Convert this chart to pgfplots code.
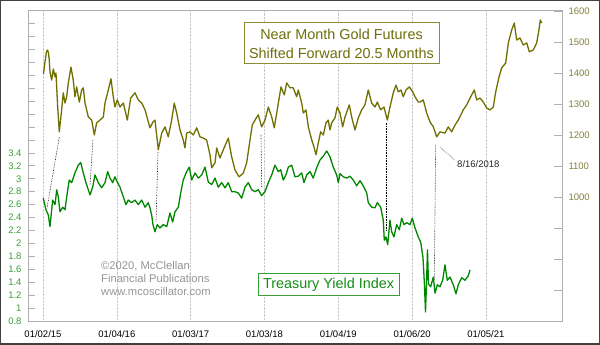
\documentclass[border=0pt]{standalone}
\usepackage{fontspec}
\setmainfont{Liberation Sans}
\usepackage{pgfplots}
\usepackage{pgfplotstable}
\pgfplotsset{compat=1.18}
\definecolor{goldline}{RGB}{112,112,0}
\definecolor{goldtext}{RGB}{110,110,10}
\definecolor{goldlab}{RGB}{130,130,60}
\definecolor{tsyline}{RGB}{0,135,0}
\definecolor{tsytext}{RGB}{20,140,20}
\definecolor{tsylab}{RGB}{55,160,55}
\definecolor{framegray}{RGB}{175,175,175}
\definecolor{copygray}{RGB}{150,150,150}

\pgfplotstableread{
year price
2015.007 1397
2015.027 1435
2015.047 1468
2015.061 1474
2015.074 1465
2015.085 1442
2015.095 1403
2015.118 1377
2015.140 1413
2015.163 1387
2015.176 1400
2015.199 1290
2015.221 1210
2015.253 1281
2015.275 1336
2015.298 1303
2015.321 1323
2015.343 1368
2015.379 1419
2015.410 1377
2015.433 1323
2015.456 1355
2015.492 1306
2015.524 1345
2015.546 1352
2015.569 1303
2015.614 1258
2015.660 1248
2015.695 1200
2015.727 1239
2015.772 1248
2015.817 1258
2015.840 1303
2015.885 1345
2015.921 1381
2015.952 1323
2015.975 1290
2016.006 1313
2016.043 1290
2016.088 1303
2016.142 1248
2016.188 1319
2016.246 1336
2016.291 1313
2016.337 1303
2016.382 1281
2016.449 1223
2016.490 1242
2016.517 1248
2016.562 1152
2016.608 1206
2016.652 1226
2016.697 1194
2016.743 1248
2016.778 1303
2016.811 1271
2016.856 1216
2016.900 1184
2016.923 1158
2016.946 1206
2016.991 1210
2017.036 1200
2017.082 1223
2017.127 1194
2017.171 1190
2017.217 1184
2017.262 1136
2017.285 1094
2017.330 1110
2017.353 1158
2017.397 1126
2017.442 1152
2017.510 1190
2017.556 1129
2017.601 1087
2017.655 1065
2017.713 1077
2017.759 1110
2017.804 1184
2017.835 1232
2017.872 1248
2017.916 1265
2017.962 1226
2018.007 1248
2018.052 1290
2018.098 1258
2018.133 1223
2018.179 1290
2018.224 1355
2018.268 1329
2018.301 1368
2018.346 1352
2018.390 1352
2018.436 1323
2018.458 1345
2018.504 1303
2018.526 1271
2018.562 1281
2018.594 1226
2018.640 1184
2018.671 1161
2018.698 1136
2018.729 1174
2018.761 1210
2018.797 1200
2018.833 1239
2018.864 1248
2018.887 1216
2018.910 1239
2018.955 1255
2018.986 1290
2019.023 1271
2019.059 1226
2019.091 1258
2019.149 1297
2019.181 1258
2019.226 1216
2019.271 1255
2019.317 1281
2019.361 1297
2019.406 1345
2019.452 1303
2019.497 1290
2019.528 1306
2019.574 1281
2019.619 1290
2019.664 1248
2019.700 1290
2019.745 1336
2019.781 1361
2019.813 1339
2019.849 1345
2019.880 1323
2019.917 1345
2019.962 1355
2020.008 1339
2020.039 1323
2020.083 1306
2020.106 1306
2020.151 1313
2020.197 1271
2020.242 1242
2020.287 1226
2020.333 1194
2020.377 1210
2020.445 1206
2020.490 1226
2020.536 1210
2020.581 1232
2020.625 1248
2020.693 1281
2020.739 1297
2020.784 1319
2020.842 1345
2020.874 1313
2020.919 1319
2020.964 1306
2021.010 1287
2021.055 1281
2021.099 1290
2021.132 1339
2021.177 1387
2021.213 1416
2021.267 1432
2021.303 1497
2021.349 1539
2021.384 1561
2021.416 1506
2021.461 1513
2021.506 1490
2021.552 1497
2021.587 1468
2021.641 1474
2021.687 1497
2021.718 1539
2021.736 1571
2021.755 1561
}\golddata

\pgfplotstableread{
year yield
2015.004 2.70
2015.041 2.52
2015.072 2.44
2015.095 2.26
2015.131 2.67
2015.163 2.60
2015.186 2.83
2015.207 2.72
2015.230 2.49
2015.267 2.56
2015.298 2.52
2015.329 2.78
2015.356 2.98
2015.389 2.94
2015.433 3.09
2015.478 3.21
2015.511 3.25
2015.546 3.09
2015.582 2.94
2015.637 2.75
2015.673 2.87
2015.704 3.06
2015.749 2.94
2015.795 2.86
2015.840 2.94
2015.876 3.11
2015.908 3.01
2015.944 2.94
2015.975 3.03
2016.006 2.95
2016.043 2.87
2016.088 2.72
2016.124 2.60
2016.155 2.67
2016.201 2.63
2016.246 2.67
2016.291 2.60
2016.337 2.67
2016.382 2.56
2016.426 2.63
2016.449 2.55
2016.472 2.44
2016.490 2.29
2016.517 2.18
2016.548 2.29
2016.585 2.24
2016.629 2.29
2016.676 2.26
2016.720 2.47
2016.757 2.33
2016.788 2.49
2016.833 2.56
2016.865 2.78
2016.900 2.98
2016.946 3.11
2016.982 3.18
2017.014 2.98
2017.059 3.09
2017.104 3.01
2017.150 3.06
2017.194 3.18
2017.239 2.95
2017.285 2.91
2017.330 3.01
2017.374 2.87
2017.421 2.94
2017.465 2.86
2017.510 2.94
2017.556 2.80
2017.601 2.80
2017.645 2.78
2017.691 2.70
2017.736 2.87
2017.781 2.94
2017.827 2.83
2017.872 2.80
2017.916 2.83
2017.962 2.74
2018.007 2.80
2018.052 2.94
2018.098 3.06
2018.142 3.21
2018.187 3.11
2018.220 3.14
2018.255 2.98
2018.291 3.06
2018.323 3.18
2018.369 3.21
2018.413 3.03
2018.458 3.04
2018.504 3.09
2018.535 2.94
2018.572 3.06
2018.617 3.11
2018.661 3.01
2018.707 3.17
2018.752 3.29
2018.797 3.35
2018.843 3.43
2018.887 3.34
2018.932 3.18
2018.978 3.06
2019.000 2.94
2019.023 3.08
2019.068 3.03
2019.114 3.01
2019.158 3.04
2019.203 2.98
2019.249 2.89
2019.294 2.97
2019.338 2.89
2019.385 2.78
2019.406 2.63
2019.452 2.56
2019.497 2.55
2019.528 2.63
2019.574 2.56
2019.609 2.36
2019.623 2.05
2019.646 2.10
2019.669 1.98
2019.700 2.36
2019.723 2.18
2019.754 2.10
2019.791 2.29
2019.826 2.21
2019.859 2.39
2019.890 2.29
2019.926 2.32
2019.971 2.29
2020.002 2.39
2020.039 2.24
2020.083 2.10
2020.116 2.02
2020.147 1.78
2020.167 1.36
2020.181 0.94
2020.195 1.39
2020.208 1.90
2020.222 1.37
2020.251 1.33
2020.287 1.48
2020.310 1.23
2020.341 1.36
2020.377 1.33
2020.414 1.43
2020.445 1.67
2020.476 1.43
2020.513 1.48
2020.558 1.36
2020.594 1.22
2020.625 1.36
2020.671 1.47
2020.716 1.43
2020.761 1.50
2020.784 1.59
}\yielddata

\begin{document}
\begin{tikzpicture}
\path[use as bounding box] (-28pt,-24pt) rectangle (572pt,321pt);
\fill[white] (-28pt,-24pt) rectangle (572pt,321pt);
% right axis: gold
\begin{axis}[
  at={(0pt,0pt)}, anchor=south west,
  scale only axis, width=534pt, height=311pt,
  xmin=2014.797, xmax=2022.03, ymin=600, ymax=1603,
  axis line style={framegray, line width=0.8pt},
  xtick={2015,...,2021},
  xticklabels={01/02/15,01/04/16,01/03/17,01/03/18,01/04/19,01/06/20,01/05/21},
  xtick style={draw=none},
  xmajorgrids, x grid style={densely dotted, black!22, line width=0.5pt},
  ytick pos=right,
  ytick={700,800,900,1000,1100,1200,1300,1400,1500,1600},
  yticklabels={,,,1000,1100,1200,1300,1400,1500,1600},
  ytick style={framegray, line width=0.7pt},
  tick align=inside, major tick length=8pt,
  yticklabel style={font=\fontsize{9.5}{10}\selectfont, text=goldlab, xshift=3pt},
  xticklabel style={font=\fontsize{9.5}{10}\selectfont, text=black, yshift=-6pt},
  /pgf/number format/assume math mode=true,
]
\addplot[goldline, line width=1.3pt, line join=round] table[x=year, y=price] {\golddata};
% connector lines (gold trough to yield trough)
\draw[densely dotted, black, line width=0.6pt] (axis cs:2015.221,1193) -- (axis cs:2015.054,964);
\draw[densely dotted, black, line width=0.6pt] (axis cs:2015.677,1184) -- (axis cs:2015.637,1039);
\draw[densely dotted, black, line width=0.6pt] (axis cs:2016.558,1145) -- (axis cs:2016.531,919);
\draw[densely dotted, black, line width=0.6pt] (axis cs:2017.953,1200) -- (axis cs:2017.962,1032);
\draw[densely dotted, black, line width=0.6pt] (axis cs:2019.655,1239) -- (axis cs:2019.655,893);
\draw[densely dotted, black, line width=0.6pt] (axis cs:2020.319,1168) -- (axis cs:2020.300,732);
\draw[densely dotted, black, line width=0.5pt] (axis cs:2020.377,1161) -- (axis cs:2020.581,1119);
\node[anchor=west, font=\fontsize{9.5}{10}\selectfont, text=black!85, inner sep=0pt] at (axis cs:2020.608,1106) {8/16/2018};
\end{axis}
% left axis: treasury yield index
\begin{axis}[
  at={(0pt,0pt)}, anchor=south west,
  scale only axis, width=534pt, height=311pt,
  xmin=2014.797, xmax=2022.03, ymin=0.8, ymax=5.61,
  hide x axis,
  axis y line*=left,
  axis line style={framegray, line width=0.8pt},
  ytick={0.8,1,1.2,1.4,1.6,1.8,2,2.2,2.4,2.6,2.8,3,3.2,3.4,3.6,3.8,4,4.2,4.4,4.6,4.8,5,5.2,5.4},
  yticklabels={0.8,1,1.2,1.4,1.6,1.8,2,2.2,2.4,2.6,2.8,3,3.2,3.4,,,,,,,,,,},
  ytick style={framegray, line width=0.7pt},
  tick align=inside, major tick length=7pt,
  yticklabel style={font=\fontsize{9.5}{10}\selectfont, text=tsylab, xshift=-3pt},
  /pgf/number format/assume math mode=true,
]
\addplot[tsyline, line width=1.3pt, line join=round] table[x=year, y=yield] {\yielddata};
\end{axis}
% text boxes
\draw[goldline!80, line width=1pt, fill=white] (216pt,257pt) rectangle (411pt,298pt);
\node[align=center, text=goldtext, font=\fontsize{14.4}{19}\selectfont] at (313.5pt,277.5pt) {Near Month Gold Futures\\Shifted Forward 20.5 Months};
\draw[tsylab, line width=1pt, fill=white] (230.3pt,25.7pt) rectangle (371pt,47.3pt);
\node[text=tsytext, font=\fontsize{14.4}{17}\selectfont] at (300.6pt,36.5pt) {Treasury Yield Index};
\node[anchor=west, align=left, text=copygray, font=\fontsize{11.2}{12.8}\selectfont, inner sep=0pt] at (73pt,42.6pt) {\textcopyright2020, McClellan\\Financial Publications\\www.mcoscillator.com};
% outer frame
\draw[black!75, line width=1.5pt] (-27.25pt,-23.25pt) rectangle (571.25pt,320.25pt);
\end{tikzpicture}
\end{document}
